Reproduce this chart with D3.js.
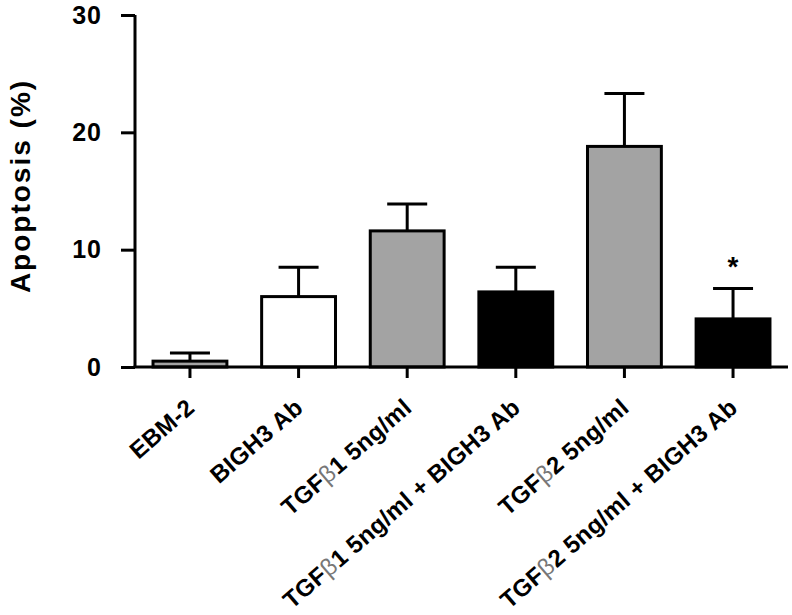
<!DOCTYPE html>
<html>
<head>
<meta charset="utf-8">
<script src="https://d3js.org/d3.v7.min.js"></script>
<style>
  body { margin: 0; background: #fff; }
  text { font-family: "Liberation Sans", Arial, sans-serif; font-weight: bold; fill: #000; }
</style>
</head>
<body>
<script>
// data
var groups = ["EBM-2", "BIGH3 Ab", "TGFβ1 5ng/ml", "TGFβ1 5ng/ml + BIGH3 Ab", "TGFβ2 5ng/ml", "TGFβ2 5ng/ml + BIGH3 Ab"];
var means = [0.5, 6.0, 11.6, 6.4, 18.8, 4.1];
var sems = [0.7, 2.5, 2.3, 2.1, 4.5, 2.6];
var fills = ["#a3a3a3", "#ffffff", "#a3a3a3", "#000000", "#a3a3a3", "#000000"];
var yTicks = [0, 10, 20, 30];
var signif = ["", "", "", "", "", "*"];

var width = 792, height = 615;

var svg = d3.select("body").append("svg")
    .attr("width", width)
    .attr("height", height);

var x = d3.scaleBand()
    .domain(groups)
    .range([135, 788])
    .paddingInner(0.32)
    .paddingOuter(0.166);

var y = d3.scaleLinear()
    .domain([0, 30])
    .range([367, 15]);

// bars
svg.selectAll(".bar")
    .data(groups)
  .enter().append("rect")
    .attr("class", "bar")
    .attr("x", function(d) { return x(d); })
    .attr("width", x.bandwidth())
    .attr("y", function(d, i) { return y(means[i]); })
    .attr("height", function(d, i) { return y(0) - y(means[i]); })
    .attr("fill", function(d, i) { return fills[i]; })
    .attr("stroke", "#000")
    .attr("stroke-width", 3);

// error bars (upper only)
var err = svg.selectAll(".err")
    .data(groups)
  .enter().append("g")
    .attr("class", "err")
    .attr("stroke", "#000")
    .attr("stroke-width", 3);

err.append("line")
    .attr("x1", function(d) { return x(d) + x.bandwidth() / 2; })
    .attr("x2", function(d) { return x(d) + x.bandwidth() / 2; })
    .attr("y1", function(d, i) { return y(means[i]); })
    .attr("y2", function(d, i) { return y(means[i] + sems[i]); });

err.append("line")
    .attr("x1", function(d) { return x(d) + x.bandwidth() / 2 - 20; })
    .attr("x2", function(d) { return x(d) + x.bandwidth() / 2 + 20; })
    .attr("y1", function(d, i) { return y(means[i] + sems[i]); })
    .attr("y2", function(d, i) { return y(means[i] + sems[i]); });

// significance marks
svg.selectAll(".sig")
    .data(groups)
  .enter().append("text")
    .attr("class", "sig")
    .attr("x", function(d) { return x(d) + x.bandwidth() / 2; })
    .attr("y", function(d, i) { return y(means[i] + sems[i]) - 12; })
    .attr("text-anchor", "middle")
    .style("font-size", "28px")
    .text(function(d, i) { return signif[i]; });

// y axis
var yAxis = svg.append("g")
    .attr("transform", "translate(135,0)")
    .call(d3.axisLeft(y).tickValues(yTicks).tickSize(14).tickPadding(19));
yAxis.select(".domain").attr("stroke-width", 3).attr("d", "M0," + y(30) + "V" + y(0));
yAxis.selectAll(".tick line").attr("stroke-width", 3);
yAxis.selectAll(".tick text")
    .style("font-size", "25px")
    .style("letter-spacing", "1px")
    .style("font-family", "'Liberation Sans', Arial, sans-serif")
    .style("font-weight", "bold")
    .attr("fill", "#000");

// x axis
var xAxis = svg.append("g")
    .attr("transform", "translate(0," + y(0) + ")")
    .call(d3.axisBottom(x).tickSize(11).tickFormat(""));
xAxis.select(".domain").attr("stroke-width", 3).attr("d", "M133.5,0H788");
xAxis.selectAll(".tick line").attr("stroke-width", 3);

// rotated category labels, beta drawn lighter
var labels = svg.selectAll(".xlab")
    .data(groups)
  .enter().append("text")
    .attr("class", "xlab")
    .attr("text-anchor", "end")
    .attr("transform", function(d) {
      return "translate(" + (x(d) + x.bandwidth() / 2 + 6) + "," + (y(0) + 43) + ") rotate(-41)";
    })
    .style("font-size", "24px")
    .style("letter-spacing", "0.3px");

labels.each(function(d) {
  var t = d3.select(this);
  d.split(/(β)/).forEach(function(part) {
    if (!part) return;
    var s = t.append("tspan").text(part);
    if (part === "β") s.style("font-weight", "normal").attr("fill", "#777");
  });
});

// y label
svg.append("text")
    .attr("transform", "translate(30,186) rotate(-90)")
    .attr("text-anchor", "middle")
    .style("font-size", "28px")
    .style("letter-spacing", "2px")
    .text("Apoptosis (%)");
</script>
</body>
</html>
